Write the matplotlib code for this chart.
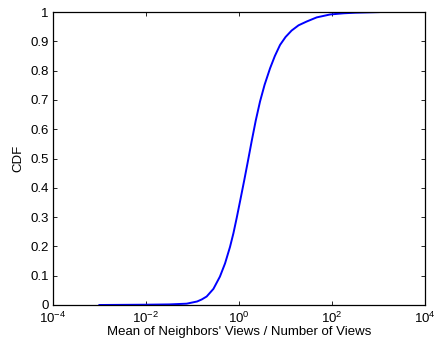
import matplotlib
matplotlib.use("Agg")
import matplotlib.pyplot as plt
from matplotlib.ticker import FixedLocator, NullLocator
import numpy as np

plt.rcParams['font.family'] = ['Liberation Sans', 'DejaVu Sans']

# CDF (log10 du ratio, valeur de la CDF)
log_ratio = [-3.0, -2.5, -2.0, -1.5, -1.125, -0.9, -0.8, -0.695, -0.55, -0.41, -0.3,
             -0.194, -0.12, -0.05, 0.03, 0.115, 0.19, 0.273, 0.36, 0.452, 0.55,
             0.667, 0.77, 0.882, 1.0, 1.13, 1.28, 1.456, 1.67, 1.96, 2.25, 2.5, 3.0]
cdf = [0.0, 0.0005, 0.001, 0.002, 0.0045, 0.012, 0.019, 0.029, 0.055, 0.097, 0.142,
       0.198, 0.245, 0.297, 0.36, 0.428, 0.49, 0.56, 0.63, 0.695, 0.752,
       0.808, 0.85, 0.888, 0.915, 0.937, 0.955, 0.968, 0.982, 0.992, 0.996, 0.998, 1.0]

x_ticks = [1e-4, 1e-2, 1e0, 1e2, 1e4]
y_ticks = [0, 0.1, 0.2, 0.3, 0.4, 0.5, 0.6, 0.7, 0.8, 0.9, 1]
y_labels = ['0', '0.1', '0.2', '0.3', '0.4', '0.5', '0.6', '0.7', '0.8', '0.9', '1']

fig = plt.figure(figsize=(4.48, 3.46), dpi=100)
ax = fig.add_axes([0.118, 0.1185, 0.831, 0.8465])

ax.semilogx(10 ** np.array(log_ratio), cdf, color=(0, 0, 1), linewidth=1.4)

ax.set_xlim(1e-4, 1e4)
ax.set_ylim(0, 1)
ax.xaxis.set_major_locator(FixedLocator(x_ticks))
ax.xaxis.set_minor_locator(NullLocator())
ax.set_yticks(y_ticks)
ax.set_yticklabels(y_labels)

ax.tick_params(direction='in', top=True, right=True, labelsize=9.5, length=3, width=0.6)
ax.tick_params(axis='x', pad=4.5)
ax.tick_params(axis='y', pad=3)
for s in ax.spines.values():
    s.set_linewidth(0.9)

ax.set_xlabel("Mean of Neighbors' Views / Number of Views", fontsize=9.5, labelpad=0)
ax.set_ylabel("CDF", fontsize=9.5, labelpad=4)

fig.savefig("out.png", dpi=100)
